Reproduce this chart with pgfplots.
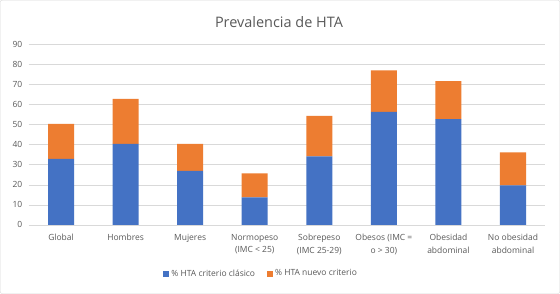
\documentclass[border=0pt]{standalone}
\usepackage{pgfplots}
\pgfplotsset{compat=1.18}
\usepackage{fontspec}
\setmainfont{Open Sans}
\definecolor{cblue}{HTML}{4472C4}
\definecolor{corange}{HTML}{ED7D31}
\definecolor{cgrid}{HTML}{D9D9D9}
\definecolor{ctext}{HTML}{595959}
\begin{document}
\begin{tikzpicture}[x=1bp,y=1bp]
\draw[cgrid, fill=white, rounded corners=2bp] (0.5,0.5) rectangle (559.5,293.5);
\node[text=ctext, font=\fontsize{14.5}{16}\selectfont] at (279,272) {Prevalencia de HTA};
\begin{axis}[
  at={(29bp,69bp)}, anchor=south west,
  scale only axis, width=516bp, height=180bp,
  ybar stacked, bar width=26bp,
  xmin=-0.5, xmax=7.5, ymin=0, ymax=90,
  ytick={0,10,...,90},
  xtick=data,
  xticklabels={Global,Hombres,Mujeres,{Normopeso\\(IMC < 25)},{Sobrepeso\\(IMC 25-29)},{Obesos (IMC =\\o > 30)},{Obesidad\\abdominal},{No obesidad\\abdominal}},
  xticklabel style={align=center, text=ctext, font=\fontsize{8.5}{12.5}\selectfont, yshift=-6bp},
  yticklabel style={text=ctext, font=\fontsize{8.5}{10}\selectfont, xshift=-3bp},
  /pgf/number format/assume math mode=true,
  axis line style={draw=none},
  major tick length=0pt,
  ymajorgrids, grid style={cgrid, line width=0.8bp},
  xtick pos=bottom, ytick pos=left,
  legend style={at={(0.45,-0.27)}, anchor=center, draw=none, legend columns=2,
    font=\fontsize{8.5}{10}\selectfont, text=ctext,
    /tikz/every even column/.append style={column sep=10bp}},
  legend image code/.code={\fill[#1] (0bp,-3bp) rectangle (6bp,3bp);},
]
\addplot[fill=cblue, draw=none] coordinates {(0,33) (1,40.5) (2,27) (3,13.8) (4,34.2) (5,56.5) (6,52.8) (7,19.8)};
\addplot[fill=corange, draw=none] coordinates {(0,17.5) (1,22.5) (2,13.5) (3,12) (4,20.3) (5,20.7) (6,19) (7,16.5)};
\legend{\% HTA criterio clásico, \% HTA nuevo criterio}
\end{axis}
\end{tikzpicture}
\end{document}
